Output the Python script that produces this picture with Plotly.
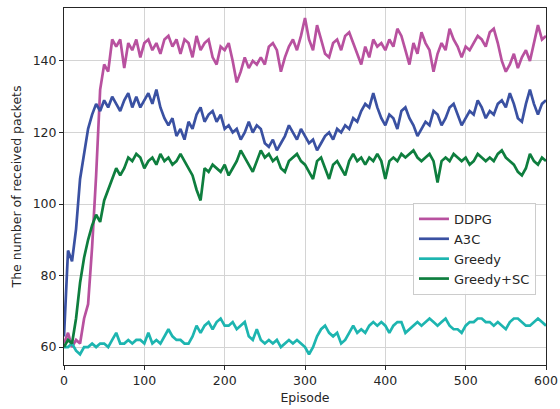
import plotly.graph_objects as go

episodes = list(range(0, 601, 5))

ddpg = [61, 64, 60, 62, 61, 68, 72, 88, 108, 132, 139, 137, 146, 144, 146, 138, 145, 143, 146, 141,
        145, 146, 143, 145, 142, 146, 147, 144, 146, 142, 146, 145, 141, 147, 143, 145, 146, 141, 139, 144,
        143, 145, 140, 134, 137, 141, 138, 140, 139, 141, 139, 144, 145, 143, 137, 141, 144, 146, 143, 147,
        152, 146, 143, 150, 146, 142, 141, 145, 146, 143, 147, 148, 145, 142, 139, 144, 141, 146, 144, 145,
        143, 146, 144, 149, 147, 143, 139, 145, 142, 148, 145, 143, 137, 142, 145, 143, 149, 146, 144, 141,
        144, 143, 145, 147, 146, 144, 148, 149, 145, 140, 137, 139, 142, 138, 141, 143, 140, 145, 150, 146,
        147]

a3c = [63, 87, 84, 93, 107, 114, 121, 125, 128, 126, 129, 127, 130, 128, 126, 129, 131, 127, 130, 127,
       129, 131, 128, 132, 127, 124, 122, 124, 119, 121, 118, 123, 121, 125, 127, 123, 125, 126, 123, 125,
       121, 122, 120, 121, 118, 120, 123, 120, 122, 121, 117, 116, 118, 115, 117, 119, 122, 120, 118, 121,
       119, 117, 118, 115, 117, 119, 120, 118, 121, 120, 122, 121, 124, 123, 126, 128, 127, 131, 127, 124,
       122, 125, 124, 121, 126, 127, 124, 122, 119, 121, 123, 122, 126, 125, 122, 124, 127, 128, 125, 122,
       124, 126, 125, 129, 127, 124, 126, 125, 128, 129, 127, 131, 128, 124, 123, 128, 132, 128, 125, 128,
       129]

greedy = [60, 60, 61, 59, 58, 60, 60, 61, 60, 61, 61, 60, 62, 64, 61, 61, 62, 61, 62, 62,
          61, 64, 61, 62, 61, 63, 65, 63, 62, 62, 61, 61, 63, 66, 64, 66, 67, 65, 67, 68,
          66, 66, 67, 65, 66, 67, 63, 62, 65, 62, 61, 62, 61, 62, 60, 61, 62, 61, 62, 61,
          60, 58, 60, 63, 65, 66, 64, 63, 64, 61, 62, 64, 66, 64, 65, 64, 66, 67, 66, 67,
          66, 64, 66, 67, 67, 64, 65, 66, 67, 66, 67, 68, 67, 66, 67, 68, 66, 65, 65, 64,
          66, 67, 67, 68, 68, 67, 67, 66, 67, 66, 65, 67, 68, 68, 67, 66, 66, 67, 68, 67,
          66]

greedy_sc = [60, 62, 61, 68, 78, 85, 90, 94, 97, 95, 101, 104, 107, 110, 108, 110, 113, 112, 114, 113,
             110, 112, 113, 111, 114, 112, 113, 111, 112, 114, 112, 110, 108, 104, 101, 110, 109, 111, 110, 109,
             111, 108, 110, 112, 115, 113, 111, 109, 112, 115, 113, 114, 112, 113, 110, 109, 112, 113, 114, 112,
             111, 109, 107, 112, 113, 110, 107, 111, 112, 110, 108, 112, 114, 112, 113, 111, 113, 112, 114, 112,
             107, 112, 113, 112, 114, 113, 114, 115, 113, 112, 113, 114, 112, 106, 112, 113, 112, 114, 113, 112,
             113, 111, 112, 114, 113, 112, 113, 112, 114, 115, 113, 112, 111, 109, 108, 110, 114, 112, 111, 113,
             112]

series_names = ["DDPG", "A3C", "Greedy", "Greedy+SC"]
series_values = [ddpg, a3c, greedy, greedy_sc]
colors = ["#b8519f", "#3a51a2", "#1db5b0", "#0e7e3e"]

x_ticks = [0, 100, 200, 300, 400, 500, 600]
y_ticks = [60, 80, 100, 120, 140]

fig = go.Figure()
for name, vals, col in zip(series_names, series_values, colors):
    fig.add_trace(go.Scatter(x=episodes, y=vals, mode="lines", name=name,
                             line=dict(color=col, width=2.7)))

txt = "#262626"
axis_common = dict(showline=True, linecolor=txt, linewidth=1, mirror=True,
                   showgrid=True, gridcolor="#d4d4d4", gridwidth=1, zeroline=False,
                   ticks="outside", ticklen=4, tickcolor=txt, automargin=False,
                   tickfont=dict(family="DejaVu Sans", size=12.5, color=txt))

fig.update_xaxes(range=[0, 600], tickvals=x_ticks,
                 title=dict(text="Episode", font=dict(family="DejaVu Sans", size=12.5, color=txt), standoff=6),
                 **axis_common)
fig.update_yaxes(range=[55, 154.8], tickvals=y_ticks,
                 title=dict(text="The number of received packets", font=dict(family="DejaVu Sans", size=12.5, color=txt), standoff=8),
                 **axis_common)

fig.update_layout(
    width=560, height=409,
    margin=dict(l=64, r=14, t=8, b=44),
    paper_bgcolor="white", plot_bgcolor="white",
    font=dict(family="DejaVu Sans", size=12.5, color=txt),
    legend=dict(x=0.724, y=0.454, xanchor="left", yanchor="top",
                bgcolor="rgba(255,255,255,0.9)", bordercolor="#cccccc", borderwidth=1,
                font=dict(family="DejaVu Sans", size=13, color=txt),
                itemwidth=30, tracegroupgap=0),
    showlegend=True,
)

fig.write_html("out.html")
